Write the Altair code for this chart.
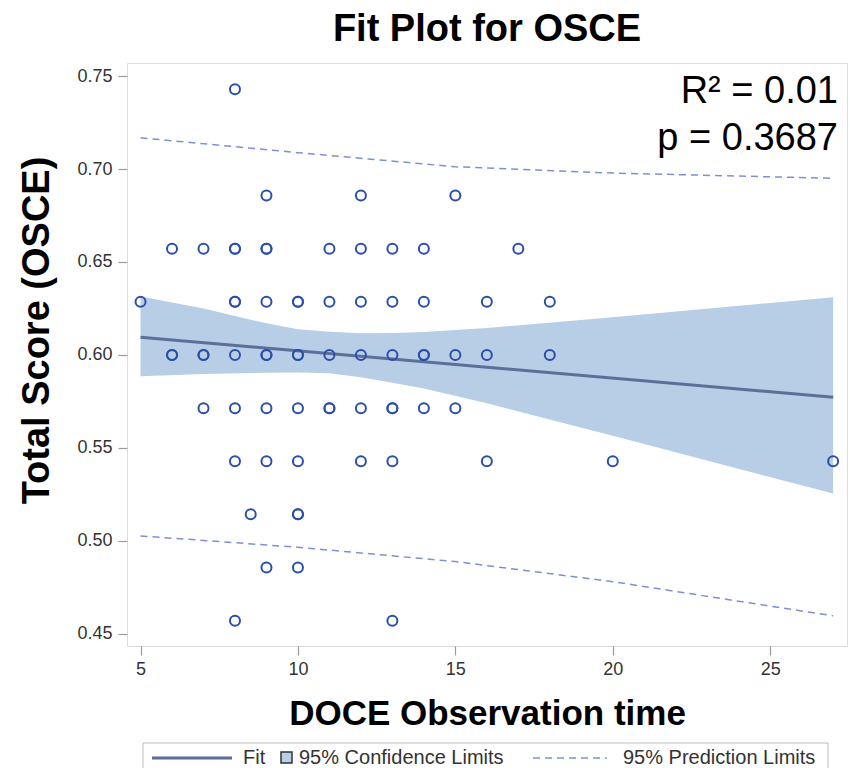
import altair as alt
import pandas as pd

# --- observations (DOCE observation time vs OSCE total score) ---
obs_time = [8,
            9, 12, 15,
            6, 7, 8, 8, 9, 9, 11, 12, 13, 14, 17,
            5, 8, 8, 9, 10, 10, 11, 12, 13, 14, 16, 18,
            6, 6, 7, 7, 8, 9, 9, 10, 10, 11, 12, 13, 14, 14, 15, 16, 18,
            7, 8, 9, 10, 11, 11, 12, 13, 13, 14, 15,
            8, 9, 10, 12, 13, 16, 20, 27,
            8.5, 10, 10,
            9, 10,
            8, 13]
osce = [0.7429,
        0.6857, 0.6857, 0.6857,
        0.6571, 0.6571, 0.6571, 0.6571, 0.6571, 0.6571, 0.6571, 0.6571, 0.6571, 0.6571, 0.6571,
        0.6286, 0.6286, 0.6286, 0.6286, 0.6286, 0.6286, 0.6286, 0.6286, 0.6286, 0.6286, 0.6286, 0.6286,
        0.6000, 0.6000, 0.6000, 0.6000, 0.6000, 0.6000, 0.6000, 0.6000, 0.6000, 0.6000, 0.6000, 0.6000,
        0.6000, 0.6000, 0.6000, 0.6000, 0.6000,
        0.5714, 0.5714, 0.5714, 0.5714, 0.5714, 0.5714, 0.5714, 0.5714, 0.5714, 0.5714, 0.5714,
        0.5429, 0.5429, 0.5429, 0.5429, 0.5429, 0.5429, 0.5429, 0.5429,
        0.5143, 0.5143, 0.5143,
        0.4857, 0.4857,
        0.4571, 0.4571]

# --- fit line and limits ---
fit_x = [5, 27]
fit_y = [0.6095, 0.5773]

band_x = [5, 7, 9, 10, 11, 12, 13, 14, 16, 20, 27]
cl_upper = [0.6315, 0.6250, 0.6170, 0.6138, 0.6125, 0.6117, 0.6118, 0.6124, 0.6145, 0.6203, 0.6310]
cl_lower = [0.5885, 0.5897, 0.5905, 0.5906, 0.5902, 0.5880, 0.5850, 0.5820, 0.5740, 0.5565, 0.5255]

pl_x = [5, 10, 15, 20, 27]
pl_upper = [0.7168, 0.7088, 0.7012, 0.6978, 0.6950]
pl_lower = [0.5027, 0.4966, 0.4889, 0.4781, 0.4597]

x_ticks = [5, 10, 15, 20, 25]
y_ticks = [0.45, 0.50, 0.55, 0.60, 0.65, 0.70, 0.75]

stats_lines = ["R² = 0.01", "p = 0.3687"]
legend_labels = ["Fit", "95% Confidence Limits", "95% Prediction Limits"]

FONT = "Liberation Sans"
W, H = 720, 583

xs = alt.Scale(domain=[4.57, 27.44], nice=False, zero=False)
ys = alt.Scale(domain=[0.4435, 0.757], nice=False, zero=False)

x_axis = alt.Axis(values=x_ticks, title="DOCE Observation time", titleFontSize=35,
                  titleFont=FONT, titleFontWeight="bold", titleColor="black",
                  titleX=W / 2, titleY=67, titleBaseline="middle", titleAlign="center",
                  labelFont=FONT, labelFontSize=18, labelColor="#333333", labelPadding=5,
                  tickSize=9, tickColor="#9a9a9a", tickWidth=1.2, domain=False, grid=False)
y_axis = alt.Axis(values=y_ticks, format=".2f", title="Total Score (OSCE)", titleFontSize=38,
                  titleFont=FONT, titleFontWeight="bold", titleColor="black",
                  titleX=-90, titleY=267, titleAngle=270, titleBaseline="middle",
                  titleAlign="center",
                  labelFont=FONT, labelFontSize=18, labelColor="#333333", labelPadding=6,
                  tickSize=9, tickColor="#9a9a9a", tickWidth=1.2, domain=False, grid=False)

pts = pd.DataFrame({"x": obs_time, "y": osce})
band = pd.DataFrame({"x": band_x, "lo": cl_lower, "hi": cl_upper})
fit = pd.DataFrame({"x": fit_x, "y": fit_y})
plu = pd.DataFrame({"x": pl_x, "y": pl_upper})
pll = pd.DataFrame({"x": pl_x, "y": pl_lower})

band_layer = alt.Chart(band).mark_area(color="#b8cde6", opacity=1).encode(
    x=alt.X("x:Q", scale=xs, axis=x_axis),
    y=alt.Y("lo:Q", scale=ys, axis=y_axis),
    y2="hi:Q",
)
dash_color = "#7f90d2"
plu_layer = alt.Chart(plu).mark_line(color=dash_color, strokeWidth=1.5, strokeDash=[7, 5]).encode(
    x=alt.X("x:Q", scale=xs), y=alt.Y("y:Q", scale=ys))
pll_layer = alt.Chart(pll).mark_line(color=dash_color, strokeWidth=1.5, strokeDash=[7, 5]).encode(
    x=alt.X("x:Q", scale=xs), y=alt.Y("y:Q", scale=ys))
fit_layer = alt.Chart(fit).mark_line(color="#5b6f98", strokeWidth=3).encode(
    x=alt.X("x:Q", scale=xs), y=alt.Y("y:Q", scale=ys))
pt_layer = alt.Chart(pts).mark_point(shape="circle", filled=False, size=100, strokeWidth=2,
                                     color="#2a4fab", opacity=1).encode(
    x=alt.X("x:Q", scale=xs), y=alt.Y("y:Q", scale=ys))

def text_layer(txt, x, y, size, align="left", color="black", baseline="alphabetic"):
    return alt.Chart(pd.DataFrame({"t": [txt]})).mark_text(
        font=FONT, fontSize=size, align=align, baseline=baseline, color=color
    ).encode(text="t:N", x=alt.value(x), y=alt.value(y))

stat1 = text_layer(stats_lines[0], 711, 40, 38, align="right")
stat2 = text_layer(stats_lines[1], 711, 87, 38, align="right")

# --- legend (drawn below the x-axis title) ---
one = pd.DataFrame({"k": [0]})
leg_box = alt.Chart(one).mark_rect(fillOpacity=0, stroke="#bdbdbd", strokeWidth=1).encode(
    x=alt.value(16), x2=alt.value(701), y=alt.value(680), y2=alt.value(725))
leg_fit = alt.Chart(one).mark_rule(color="#5b6f98", strokeWidth=3).encode(
    x=alt.value(25), x2=alt.value(105), y=alt.value(695))
leg_sq = alt.Chart(one).mark_rect(fill="#b8cde6", stroke="#333333", strokeWidth=1.5).encode(
    x=alt.value(154), x2=alt.value(165), y=alt.value(689), y2=alt.value(700))
leg_dash = alt.Chart(one).mark_rule(color=dash_color, strokeWidth=1.5, strokeDash=[7, 5]).encode(
    x=alt.value(406), x2=alt.value(480), y=alt.value(695))
leg_t1 = text_layer(legend_labels[0], 116, 695, 20, color="#333333", baseline="middle")
leg_t2 = text_layer(legend_labels[1], 172, 695, 20, color="#333333", baseline="middle")
leg_t3 = text_layer(legend_labels[2], 496, 695, 20, color="#333333", baseline="middle")

chart = alt.layer(
    band_layer, plu_layer, pll_layer, fit_layer, pt_layer, stat1, stat2,
    leg_box, leg_fit, leg_sq, leg_dash, leg_t1, leg_t2, leg_t3,
).properties(
    width=W, height=H,
    title=alt.TitleParams("Fit Plot for OSCE", font=FONT, fontSize=38, fontWeight="bold",
                          color="black", anchor="middle", offset=-16, baseline="alphabetic"),
    autosize=alt.AutoSizeParams(type="none"),
    padding={"left": 127, "top": 63, "right": 3, "bottom": 122},
).configure_view(stroke="#a8a8a8", strokeWidth=1.5).configure(background="white")

chart.save("out.html", embed_options={"renderer": "svg", "actions": False})
